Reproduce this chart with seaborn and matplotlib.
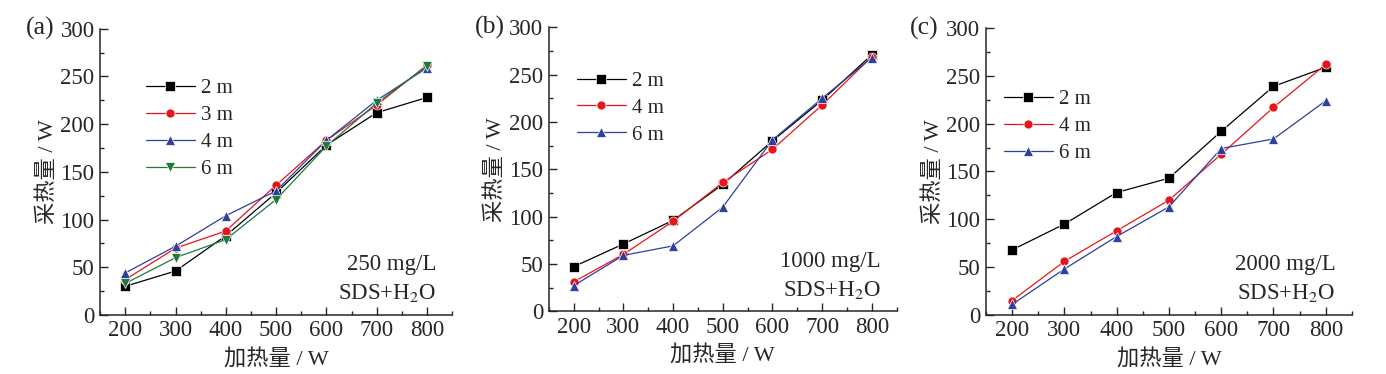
import numpy as np
import pandas as pd
import seaborn as sns
import matplotlib
matplotlib.use("Agg")
import matplotlib.pyplot as plt
from matplotlib.ticker import MultipleLocator

# heating power (x) for every series
heat = [200, 300, 400, 500, 600, 700, 800]

# (a) 250 mg/L
a_2m = [30, 46, 83, 128, 178, 212, 228]
a_3m = [37, 70, 88, 136, 183, 220, 262]
a_4m = [44, 72, 104, 130, 183, 225, 259]
a_6m = [33, 60, 79, 121, 177, 222, 261]

# (b) 1000 mg/L
b_2m = [47, 71, 96, 134, 180, 223, 271]
b_4m = [31, 60, 95, 136, 171, 218, 269]
b_6m = [27, 59, 69, 110, 181, 225, 268]

# (c) 2000 mg/L
c_2m = [68, 95, 128, 143, 192, 239, 259]
c_4m = [15, 56, 88, 120, 168, 217, 262]
c_6m = [11, 48, 82, 113, 174, 184, 224]

# colours / markers go by series order inside a panel
line_colors = ["#000000", "#e8141c", "#2e3f9c", "#1f7a3a"]
line_markers = ["s", "o", "^", "v"]

panels = [
    ("(a)", "250 mg/L", {"2 m": a_2m, "3 m": a_3m, "4 m": a_4m, "6 m": a_6m},
     [0.0722, 0.158, 0.254, 0.765], (0.13, 0.825)),
    ("(b)", "1000 mg/L", {"2 m": b_2m, "4 m": b_4m, "6 m": b_6m},
     [0.396, 0.168, 0.251, 0.759], (0.08, 0.845)),
    ("(c)", "2000 mg/L", {"2 m": c_2m, "4 m": c_4m, "6 m": c_6m},
     [0.7114, 0.158, 0.264, 0.767], (0.048, 0.785)),
]

sns.set_style("ticks")
plt.rcParams["font.family"] = ["Liberation Serif", "Noto Sans CJK SC"]
plt.rcParams["mathtext.fontset"] = "stix"

fig = plt.figure(figsize=(13.86, 3.74), dpi=100)

for tag, conc, series, rect, leg_pos in panels:
    ax = fig.add_axes(rect)
    rows = []
    for name, vals in series.items():
        for x, y in zip(heat, vals):
            rows.append({"heat": x, "value": y, "len": name})
    df = pd.DataFrame(rows)
    names = list(series.keys())
    n = len(names)
    sns.lineplot(data=df, x="heat", y="value", hue="len", style="len",
                 hue_order=names, style_order=names,
                 palette=line_colors[:n], markers=line_markers[:n],
                 dashes=False, markersize=6.5, markeredgewidth=0.5,
                 linewidth=0.9, ax=ax)

    ax.set_xlim(150, 850)
    ax.set_ylim(0, 300)
    ax.xaxis.set_major_locator(MultipleLocator(100))
    ax.xaxis.set_minor_locator(MultipleLocator(50))
    ax.yaxis.set_major_locator(MultipleLocator(50))
    ax.yaxis.set_minor_locator(MultipleLocator(25))
    ax.tick_params(which="major", direction="in", length=6, width=1,
                   labelsize=16.5, pad=4)
    ax.tick_params(which="minor", direction="in", length=3, width=1)
    for s in ["top", "right"]:
        ax.spines[s].set_visible(False)
    for s in ["left", "bottom"]:
        ax.spines[s].set_linewidth(1.1)

    ax.set_xlabel("加热量 / W", fontsize=16, labelpad=6)
    ax.set_ylabel("采热量 / W", fontsize=16, labelpad=2)

    ax.legend(loc="upper left", bbox_to_anchor=leg_pos, frameon=False,
              fontsize=15, handlelength=2.35, handletextpad=0.3,
              labelspacing=0.35, borderpad=0, borderaxespad=0)

    ax.text(-0.17, 1.0, tag, transform=ax.transAxes, fontsize=18.5,
            ha="center", va="center")
    ax.text(0.955, 0.175, conc, transform=ax.transAxes, fontsize=16.5,
            ha="right", va="center")
    ax.text(0.955, 0.075, "SDS+H$_2$O", transform=ax.transAxes, fontsize=16.5,
            ha="right", va="center")

fig.savefig("out.png", dpi=100)
